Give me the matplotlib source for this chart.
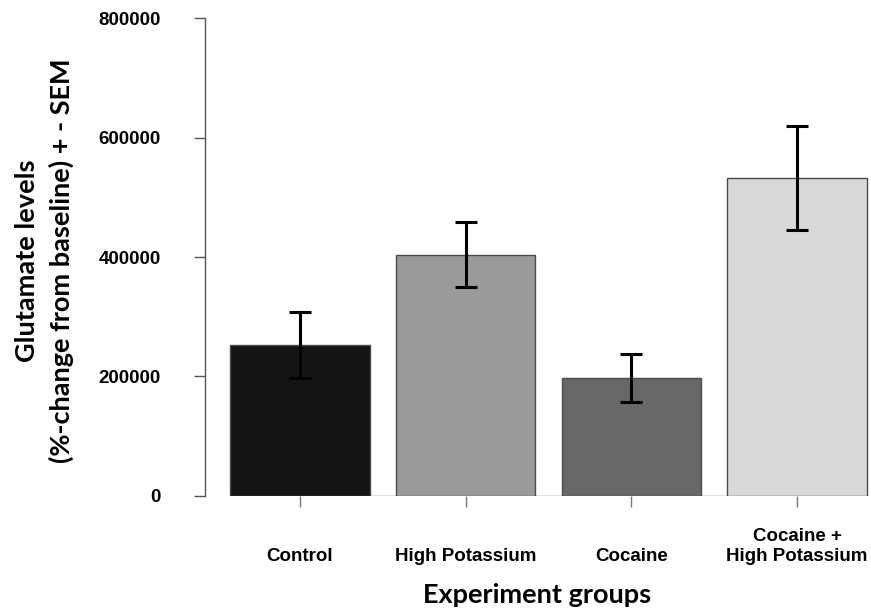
import matplotlib
matplotlib.use("Agg")
import matplotlib.pyplot as plt
import numpy as np

categories = ["Control", "High Potassium", "Cocaine", "Cocaine +\nHigh Potassium"]
means = [252000, 404000, 197000, 532000]
sem = [55000, 54000, 40000, 87000]
colors = ["#141414", "#9a9a9a", "#686868", "#d9d9d9"]
yticks = [0, 200000, 400000, 600000, 800000]
ytick_labels = ["0", "200000", "400000", "600000", "800000"]

W, H = 871, 612
fig = plt.figure(figsize=(W / 100, H / 100), dpi=100)
ax = fig.add_axes([205 / W, 1 - 495.5 / H, 1 - 205 / W, (495.5 - 18.5) / H])

x = np.arange(len(categories))
width = 0.84
ax.bar(x, means, width=width, color=colors, edgecolor="#4a4a4a", linewidth=1.0, zorder=2)
ax.errorbar(x, means, yerr=sem, fmt="none", ecolor="black", elinewidth=2.2,
            capsize=8, capthick=2.2, zorder=3)
ax.hlines(0, x[0] - width / 2, x[-1] + width / 2, color="#6a6a6a", linewidth=1.0, zorder=1)

ax.set_xlim(-0.573, 3.446)
ax.set_ylim(0, 800000)

for s in ["top", "right", "bottom"]:
    ax.spines[s].set_visible(False)
ax.spines["left"].set_color("#555555")
ax.spines["left"].set_linewidth(1.0)
ax.spines["left"].set_bounds(0, 800000)

tick_font = dict(family="Liberation Sans", weight="bold", size=13.5)
ax.set_yticks(yticks)
ax.set_yticklabels(ytick_labels, **tick_font)
ax.tick_params(axis="y", length=8, width=1.0, color="#555555", pad=24)

ax.set_xticks(x)
ax.set_xticklabels(categories, va="bottom", linespacing=1.25, **tick_font)
ax.tick_params(axis="x", length=8, width=1.0, color="#777777", pad=42)

label_font = dict(family="Lato", weight="bold", size=19.5)
ax.set_xlabel("Experiment groups", **label_font)
ax.xaxis.set_label_coords(0.4985, -0.183)
ax.set_ylabel("Glutamate levels\n(%-change from baseline) + - SEM", linespacing=1.48, **label_font)
ax.yaxis.set_label_coords(-0.1967, 0.493)

fig.savefig("out.png", dpi=100)
